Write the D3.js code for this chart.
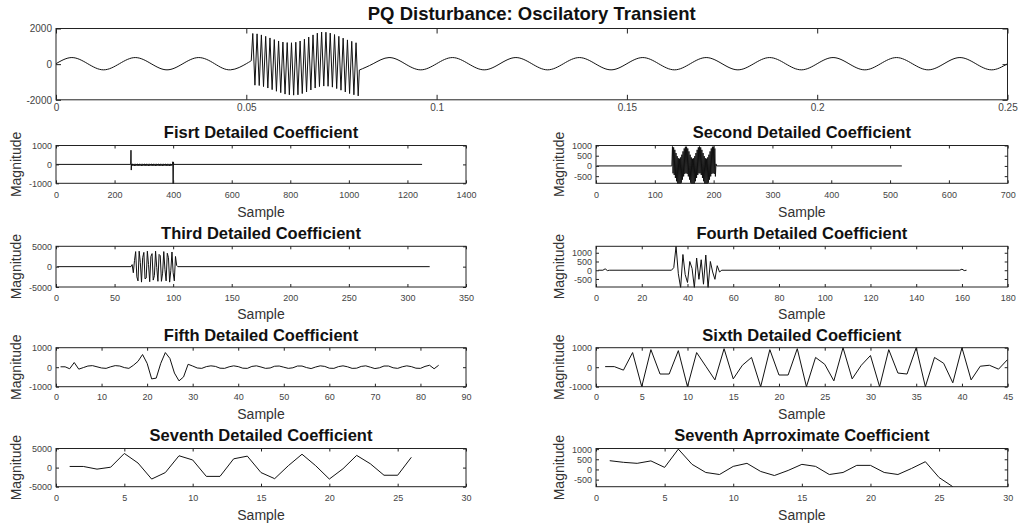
<!DOCTYPE html>
<html><head><meta charset="utf-8">
<script src="https://d3js.org/d3.v7.min.js"></script>
<style>
body{margin:0;background:#fff}
svg{display:block}
text{font-family:"Liberation Sans",Arial,Helvetica,sans-serif}
</style>
</head><body>
<svg id="c" width="1020" height="527"></svg>
<script>
// ---------------- DATA ----------------
const mainTitle = "PQ Disturbance: Oscilatory Transient";
const topXTicks = [0, 0.05, 0.1, 0.15, 0.2, 0.25];
const topYTicks = [-2000, 0, 2000];
// fundamental (60 Hz) read every quarter cycle (1/240 s); null where the transient is
const topFundamental = [25,370,25,-320,25,370,25,-320,25,370,25,-320,25,
  null,null,null,null,null,null,null,
  25,370,25,-320,25,370,25,-320,25,370,25,-320,25,370,25,-320,25,370,25,-320,
  25,370,25,-320,25,370,25,-320,25,370,25,-320,25,370,25,-320,25,370,25,-320,25];
const transientStart = 0.0513, transientStartValue = 190;
const transientEnd = 0.0797, transientEndValue = -330;
const transientFirst = 0.0517, transientLast = 0.0794;
const transientPeaks = [1720,1700,1640,1560,1470,1380,1300,1240,1210,1200,1230,1300,1400,1520,1640,1740,1800,1790,1740,1660,1560,1460,1360,1280,1200];
const transientTroughs = [-1180,-1200,-1260,-1340,-1430,-1520,-1600,-1680,-1720,-1740,-1720,-1650,-1560,-1450,-1340,-1260,-1230,-1240,-1290,-1370,-1460,-1560,-1650,-1720,-1780];

// D1
const cD1Pre = [[1,0],[255,0],[256,750],[257,-300]];
const cD1BandStart = 258, cD1BandStep = 2;
const cD1Band = [20,-70,30,-60,20,-80,30,-70,20,-60,30,-80,20,-70,30,-60,20,-80,30,-70,
  20,-60,30,-80,20,-70,30,-60,20,-80,30,-70,20,-60,30,-80,20,-70,30,-60,
  20,-80,30,-70,20,-60,30,-80,20,-70,30,-60,20,-80,30,-70,20,-60,30,-80,
  20,-70,30,-60,20,-80,30,-70,20,-60,30];
const cD1Post = [[399,140],[400,-1150],[401,120],[402,0],[1250,0]];
// D2
const cD2Pre = [[1,0],[129,0]];
const cD2Start = 130;
const cD2Values = [950,-361,906,-445,788,-589,630,-750,477,-883,375,-947,353,-925,417,-823,550,-670,711,-512,855,-394,939,
  -350,939,-394,855,-512,711,-670,550,-823,417,-925,353,-947,375,-883,477,-750,630,-589,788,-445,906,-361,
  950,-361,906,-445,788,-589,630,-750,477,-883,375,-947,353,-925,417,-823,550,-670,711,-512,855,-394,939,
  -350,939,-394,855,-512];
const cD2Post = [[204,100],[205,0],[520,0]];
// D3
const cD3Pre = [[1,0],[64,0]];
const cD3Start = 65;
const cD3Values = [500,-1500,1500,3700,-2500,-3500,3800,1000,-3800,2200,3500,-3000,-2800,3800,500,-3700,2500,3200,-3300,-2200,3800,-200,-3600,3000,2700,-3600,-1600,3700,-700,-3500,3300,2200,-3800,-1000,3600,-1500,-3500,2500,300,0];
const cD3Post = [[319,0]];
// D4
const cD4Pre = [[1,0],[3,0],[4,80],[5,-20],[6,0],[33,0]];
const cD4Start = 34;
const cD4Values = [150,1370,-200,-1000,900,-250,-700,500,100,-1000,700,-520,600,-800,870,-1000,500,-100,-520,260,-100,0];
const cD4Post = [[159,0],[160,60],[161,-20],[162,0]];
// D5 (samples 1..84)
const cD5Values = [20,20,-80,240,-100,-20,60,80,20,-40,-60,20,80,60,-20,-60,100,300,650,200,-600,-560,200,750,450,-300,-700,-500,150,60,
  -40,-60,30,70,40,-50,-60,20,70,30,-50,-60,40,70,10,-60,-40,50,60,0,-60,-30,60,60,-20,-70,10,70,40,-50,
  -60,30,70,20,-60,-50,40,70,0,-70,-30,60,60,-30,-60,20,70,30,-50,-60,40,100,-80,100];
// D6 (samples 1..45)
const cD6Values = [30,30,-150,750,-1000,900,-350,-350,850,-1000,750,50,-650,950,-600,100,500,-1000,900,-400,-400,950,-1000,500,150,-700,1000,-600,100,600,-1000,900,-300,-350,1000,-1000,500,200,-800,1000,-650,50,100,-100,400];
// D7 (samples 1..26)
const cD7Values = [300,300,-400,100,3700,1200,-3000,-1300,3100,2000,-2300,-2300,2300,3000,-1300,-2900,500,3500,500,-3000,-300,3200,1000,-2000,-2000,2700];
// A7 (samples 1..26)
const cA7Values = [430,350,300,420,100,1000,250,-150,-250,150,300,-100,-300,-50,250,150,-250,-150,200,200,-150,-250,50,380,-400,-850];

const titles = ["Fisrt Detailed Coefficient","Second Detailed Coefficient","Third Detailed Coefficient","Fourth Detailed Coefficient",
  "Fifth Detailed Coefficient","Sixth Detailed Coefficient","Seventh Detailed Coefficient","Seventh Aprroximate Coefficient"];
const xTickSets = [
  [0,200,400,600,800,1000,1200,1400],[0,100,200,300,400,500,600,700],
  [0,50,100,150,200,250,300,350],[0,20,40,60,80,100,120,140,160,180],
  [0,10,20,30,40,50,60,70,80,90],[0,5,10,15,20,25,30,35,40,45],
  [0,5,10,15,20,25,30],[0,5,10,15,20,25,30]];
const yTickSets = [[-1000,0,1000],[-500,0,500,1000],[-5000,0,5000],[-500,0,500,1000],
  [-1000,0,1000],[-1000,0,1000],[-5000,0,5000],[-500,0,500,1000]];
const yDomains = [[-1000,1000],[-850,1000],[-5000,5000],[-960,1370],[-1000,1000],[-1000,1000],[-5000,5000],[-850,1030]];
const xLabel = "Sample", yLabel = "Magnitude";

// ---------------- BUILD SERIES ----------------
const fundStep = 1/240;
const topBefore = topFundamental.slice(0,13).map((v,k)=>[k*fundStep,v]);
topBefore.push([transientStart, transientStartValue]);
const nExt = transientPeaks.length*2;
const extremes = [];
for(let i=0;i<transientPeaks.length;i++){ extremes.push(transientPeaks[i]); extremes.push(transientTroughs[i]); }
const topTransient = [[transientStart,transientStartValue]]
  .concat(extremes.map((v,i)=>[transientFirst + i*(transientLast-transientFirst)/(nExt-1), v]))
  .concat([[transientEnd,transientEndValue]]);
const topAfter = [[transientEnd,transientEndValue]].concat(
  topFundamental.map((v,k)=>[k*fundStep,v]).filter((d,k)=>k>=20));

const seq = (start, vals, step=1) => vals.map((v,i)=>[start+i*step, v]);
const serD1 = cD1Pre.concat(seq(cD1BandStart,cD1Band,cD1BandStep)).concat(cD1Post);
const serD2 = cD2Pre.concat(seq(cD2Start,cD2Values)).concat(cD2Post);
const serD3 = cD3Pre.concat(seq(cD3Start,cD3Values)).concat(cD3Post);
const serD4 = cD4Pre.concat(seq(cD4Start,cD4Values)).concat(cD4Post);
const seriesList = [serD1,serD2,serD3,serD4,seq(1,cD5Values),seq(1,cD6Values),seq(1,cD7Values),seq(1,cA7Values)];

// ---------------- DRAW ----------------
const svg = d3.select('#c');
let clipN = 0;
function panel(o){
  const g = svg.append('g');
  const x = d3.scaleLinear().domain(o.xDomain).range([o.left,o.right]);
  const y = d3.scaleLinear().domain(o.yDomain).range([o.bottom,o.top]);
  const id = 'clip'+(clipN++);
  svg.append('clipPath').attr('id',id).append('rect')
    .attr('x',o.left).attr('y',o.top-0.5).attr('width',o.right-o.left).attr('height',o.bottom-o.top+1);
  o.series.forEach(s=>{
    g.append('path')
      .attr('d', d3.line().x(d=>x(d[0])).y(d=>y(d[1])).curve(s.curve||d3.curveLinear)(s.points))
      .attr('fill','none').attr('stroke','#111').attr('stroke-width',s.width||1)
      .attr('stroke-linejoin','round')
      .attr('clip-path',`url(#${id})`);
  });
  const fs = o.fs, tl = o.tickLen;
  const fmt = d=>String(d);
  const pad = o.xLabOff - 0.36*fs;
  const ax = g.append('g').attr('transform',`translate(0,${o.bottom})`)
    .call(d3.axisBottom(x).tickValues(o.xTicks).tickSize(-tl).tickSizeOuter(0).tickPadding(pad).tickFormat(fmt));
  const at = g.append('g').attr('transform',`translate(0,${o.top})`)
    .call(d3.axisTop(x).tickValues(o.xTicks).tickSize(-tl).tickSizeOuter(0).tickFormat(''));
  const al = g.append('g').attr('transform',`translate(${o.left},0)`)
    .call(d3.axisLeft(y).tickValues(o.yTicks).tickSize(-tl).tickSizeOuter(0).tickPadding(4).tickFormat(fmt));
  const ar = g.append('g').attr('transform',`translate(${o.right},0)`)
    .call(d3.axisRight(y).tickValues(o.yTicks).tickSize(-tl).tickSizeOuter(0).tickFormat(''));
  [ax,at,al,ar].forEach(a=>{
    a.select('.domain').remove();
    a.selectAll('line').attr('stroke','#222');
    a.selectAll('text').attr('font-size',fs).attr('fill','#444')
      .attr('font-family','"Liberation Sans",Arial,sans-serif');
  });
  al.selectAll('text').attr('dy','0.34em');
  g.append('rect').attr('x',o.left).attr('y',o.top).attr('width',o.right-o.left).attr('height',o.bottom-o.top)
    .attr('fill','none').attr('stroke','#222').attr('stroke-width',1);
  if(o.title){
    g.append('text').attr('x',(o.left+o.right)/2).attr('y',o.titleBase).attr('text-anchor','middle')
      .attr('font-weight','bold').attr('font-size',o.titleFs).attr('fill','#111').text(o.title);
  }
  if(o.xlabel){
    g.append('text').attr('x',(o.left+o.right)/2).attr('y',o.xlabelBase).attr('text-anchor','middle')
      .attr('font-size',14).attr('fill','#333').text(o.xlabel);
  }
  if(o.ylabel){
    g.append('text').attr('transform',`translate(${o.ylabelX},${(o.top+o.bottom)/2}) rotate(-90)`)
      .attr('text-anchor','middle').attr('font-size',14).attr('fill','#333').text(o.ylabel);
  }
}

// top panel
panel({left:56,right:1007.5,top:28.5,bottom:99.8,xDomain:[0,0.25],yDomain:[-2000,2000],
  xTicks:topXTicks,yTicks:topYTicks,fs:10,tickLen:5,xLabOff:7.5,
  title:mainTitle,titleBase:20,titleFs:18.5,
  series:[{points:topBefore,curve:d3.curveNatural},{points:topTransient},{points:topAfter,curve:d3.curveNatural}]});

const rows = [
  {top:145.5,bottom:183.3,xLabOff:12,titleBase:138,xlabelBase:216.5},
  {top:246.3,bottom:287,xLabOff:11,titleBase:239,xlabelBase:319},
  {top:347.7,bottom:386.7,xLabOff:10.5,titleBase:340.5,xlabelBase:419},
  {top:448.5,bottom:486.7,xLabOff:11,titleBase:441,xlabelBase:520}];
const cols = [{left:56,right:466,ylabelX:20.5},{left:596,right:1007.7,ylabelX:563.5}];

for(let i=0;i<8;i++){
  const r = rows[Math.floor(i/2)], c = cols[i%2];
  const xt = xTickSets[i];
  panel({left:c.left,right:c.right,top:r.top,bottom:r.bottom,
    xDomain:[xt[0],xt[xt.length-1]],yDomain:yDomains[i],
    xTicks:xt,yTicks:yTickSets[i],fs:9,tickLen:3,xLabOff:r.xLabOff,
    title:titles[i],titleBase:r.titleBase,titleFs:16.5,
    xlabel:xLabel,xlabelBase:r.xlabelBase,ylabel:yLabel,ylabelX:c.ylabelX,
    series:[{points:seriesList[i]}]});
}
</script>
</body></html>
